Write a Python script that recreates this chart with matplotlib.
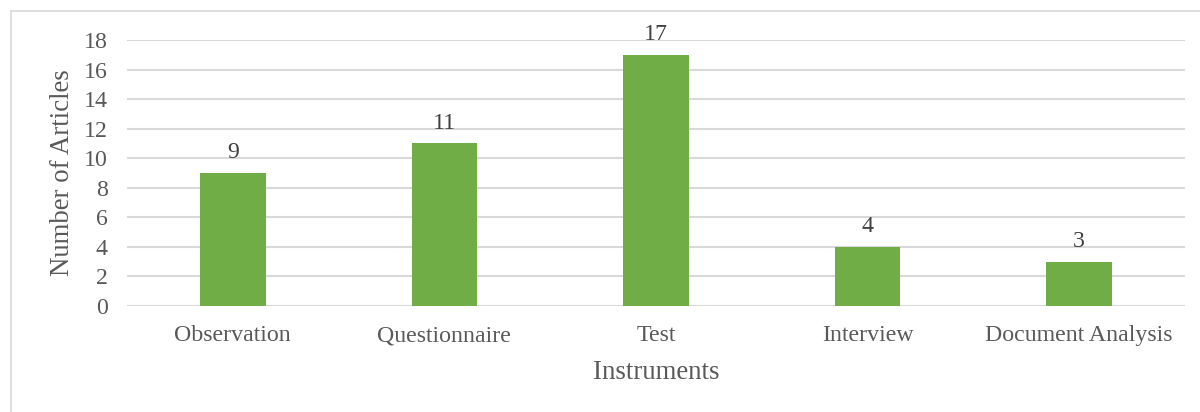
import matplotlib.pyplot as plt

instruments = ['Observation', 'Questionnaire', 'Test', 'Interview', 'Document Analysis']
articles = [9, 11, 17, 4, 3]
y_ticks = [0, 2, 4, 6, 8, 10, 12, 14, 16, 18]

bar_color = '#70AD47'
text_color = '#595959'
grid_color = '#D9D9D9'

plt.rcParams['font.family'] = ['Liberation Serif', 'DejaVu Serif']

fig = plt.figure(figsize=(12, 4.12), dpi=100)
ax = fig.add_axes([0.1058, 0.2573, 0.8817, 0.6456])

x = list(range(len(instruments)))
ax.bar(x, articles, width=0.31, color=bar_color, zorder=3)
for xi, v in zip(x, articles):
    ax.annotate(str(v), (xi, v), xytext=(0, 7), textcoords='offset points',
                ha='center', va='bottom', fontsize=17.2, color='#404040')

ax.set_xlim(-0.5, len(instruments) - 0.5)
ax.set_ylim(0, 18)
ax.set_yticks(y_ticks)
ax.set_xticks(x)
ax.set_xticklabels(instruments)
ax.tick_params(axis='both', length=0, labelsize=17.2, colors=text_color)
ax.tick_params(axis='x', pad=14)
ax.tick_params(axis='y', pad=14)
ax.yaxis.grid(True, color=grid_color, lw=1.5, zorder=0)
for s in ax.spines.values():
    s.set_visible(False)

ax.set_xlabel('Instruments', fontsize=19.3, color=text_color, labelpad=10)
ax.set_ylabel('Number of Articles', fontsize=19.3, color=text_color, labelpad=6)

# light chart-area frame (top and left edges)
fig.add_artist(plt.Line2D([11 / 1200, 1], [1 - 11 / 412, 1 - 11 / 412],
                          color=grid_color, lw=1.2, transform=fig.transFigure))
fig.add_artist(plt.Line2D([11 / 1200, 11 / 1200], [0, 1 - 11 / 412],
                          color=grid_color, lw=1.2, transform=fig.transFigure))

fig.savefig('out.png', dpi=100)
